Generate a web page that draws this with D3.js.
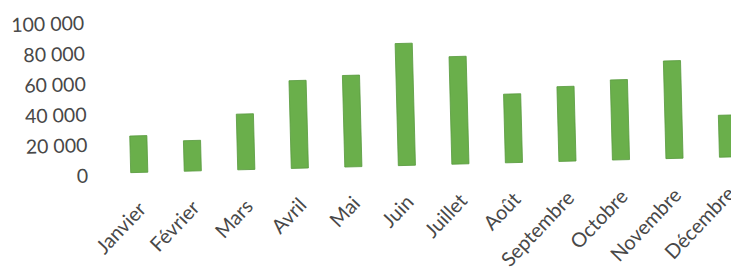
<!DOCTYPE html>
<html>
<head>
<meta charset="utf-8">
<script src="https://cdn.jsdelivr.net/npm/d3@7"></script>
<style>
  body { margin: 0; background: #fff; }
  text { font-family: Lato, "Open Sans", sans-serif; fill: #484848; }
</style>
</head>
<body>
<div id="chart"></div>
<script>
const months = ["Janvier", "Février", "Mars", "Avril", "Mai", "Juin",
  "Juillet", "Août", "Septembre", "Octobre", "Novembre", "Décembre"];
const values = [24000, 20000, 36500, 57500, 60000, 80000,
  70500, 45000, 49000, 52500, 64000, 27500];
const yTicks = [0, 20000, 40000, 60000, 80000, 100000];

const width = 731;
const height = 270;

// the scan is slightly tilted, so everything sits in a rotated group
const cx = 400, cy = 165.6;
const tilt = -1.5;

const svg = d3.select("#chart").append("svg")
  .attr("width", width)
  .attr("height", height);

const g = svg.append("g")
  .attr("transform", `rotate(${tilt},${cx},${cy})`);

const xScale = d3.scaleBand()
  .domain(months)
  .range([112.4, 754.9])
  .paddingInner(0.68)
  .paddingOuter(0.34);

const yScale = d3.scaleLinear()
  .domain([0, 100000])
  .range([cy, 13]);

const fmt = (d) => d3.format(",")(d).replace(/,/g, " ");

// y tick labels
g.selectAll("text.ytick")
  .data(yTicks)
  .enter()
  .append("text")
  .attr("class", "ytick")
  .attr("x", 88)
  .attr("y", (d) => yScale(d) + 2)
  .attr("dy", "0.35em")
  .style("text-anchor", "end")
  .style("font-size", "19.5px")
  .text(fmt);

// bars
g.selectAll("rect")
  .data(values)
  .enter()
  .append("rect")
  .attr("x", (d, i) => xScale(months[i]))
  .attr("y", (d) => yScale(d))
  .attr("width", xScale.bandwidth())
  .attr("height", (d) => yScale(0) - yScale(d))
  .attr("fill", "#6aaf4b")
  .attr("stroke", "#57993d")
  .attr("stroke-width", 0.8);

// month labels
g.selectAll("text.month")
  .data(months)
  .enter()
  .append("text")
  .attr("class", "month")
  .attr("transform", (d) => {
    const x = xScale(d) + xScale.bandwidth() / 2 + 7;
    const y = yScale(0) + 38;
    return `translate(${x},${y}) rotate(-45)`;
  })
  .style("text-anchor", "end")
  .style("font-size", "20px")
  .text((d) => d);
</script>
</body>
</html>
